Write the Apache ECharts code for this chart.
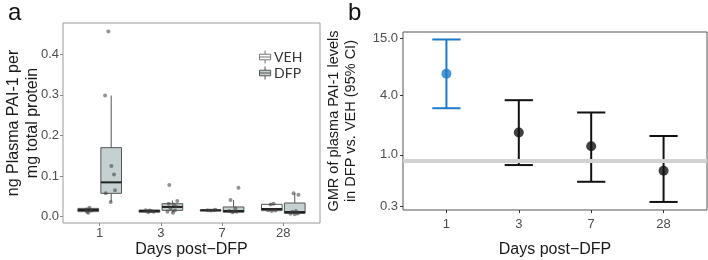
<!DOCTYPE html>
<html>
<head>
<meta charset="utf-8">
<script src="https://cdn.jsdelivr.net/npm/echarts@6/dist/echarts.min.js"></script>
<style>
  html, body { margin: 0; padding: 0; background: #fff; }
  #chart { width: 708px; height: 260px; }
</style>
</head>
<body>
<div id="chart"></div>
<script>
// panel a: plasma PAI-1, box plots by day and group
const days = ['1', '3', '7', '28'];
const groups = ['VEH', 'DFP'];
// [min, q1, median, q3, max] per day
const vehBox = [
  [0.011, 0.0125, 0.0165, 0.0205, 0.022],
  [0.010, 0.011, 0.014, 0.0165, 0.017],
  [0.014, 0.0155, 0.016, 0.0165, 0.017],
  [0.014, 0.015, 0.019, 0.0305, 0.032]
];
const dfpBox = [
  [0.036, 0.0575, 0.0846, 0.170, 0.2985],
  [0.010, 0.0157, 0.024, 0.032, 0.040],
  [0.010, 0.011, 0.014, 0.024, 0.041],
  [0.006, 0.008, 0.0115, 0.0337, 0.0575]
];
// individual animals per day
const vehPoints = [
  [0.022, 0.018, 0.015, 0.012, 0.010],
  [0.016, 0.014, 0.012, 0.011, 0.015],
  [0.016, 0.0155, 0.016, 0.017],
  [0.032, 0.030, 0.016, 0.015, 0.014]
];
const vehJitter = [
  [0.02, -0.03, 0.05, -0.02, 0.0],
  [-0.06, 0.03, 0.07, -0.02, 0.0],
  [-0.05, 0.0, 0.05, 0.08],
  [0.03, -0.02, -0.06, 0.06, 0.0]
];
const dfpPoints = [
  [0.456, 0.2985, 0.125, 0.104, 0.065, 0.058, 0.036],
  [0.078, 0.0386, 0.032, 0.030, 0.025, 0.020, 0.015, 0.012, 0.010],
  [0.0714, 0.041, 0.020, 0.014, 0.012, 0.013, 0.011],
  [0.0575, 0.054, 0.014, 0.012, 0.008, 0.007, 0.006]
];
const dfpJitter = [
  [-0.046, -0.10, 0.003, 0.046, 0.062, -0.09, -0.008],
  [-0.05, 0.08, -0.06, 0.02, 0.06, -0.03, 0.04, -0.08, 0.01],
  [0.08, -0.05, 0.03, -0.07, 0.05, 0.0, -0.02],
  [-0.02, 0.06, 0.02, -0.04, 0.05, -0.07, 0.0]
];
const aTicks = [0, 0.1, 0.2, 0.3, 0.4];

// panel b: GMR with 95% CI
const gmr = [6.6, 1.68, 1.22, 0.69];
const gmrLow = [2.96, 0.787, 0.533, 0.333];
const gmrHigh = [14.7, 3.57, 2.68, 1.55];
const refLevel = 0.88;
const bTicks = [0.3, 1, 4, 15];
const bColors = ['#1b7bc8', '#111111', '#111111', '#111111'];

const dodge = 0.1875, boxW = 0.3375, capW = 0.39;
const lg = v => Math.log10(v);

function boxData(rows, off) {
  return rows.map((r, i) => [i + 1 + off].concat(r));
}
function pointData(rows, jit, off) {
  const out = [];
  rows.forEach((r, i) => r.forEach((v, j) => out.push([i + 1 + off + jit[i][j], v])));
  return out;
}

function boxItem(fill) {
  return function (params, api) {
    const x = api.value(0);
    const c = v => api.coord([x, api.value(v)]);
    const lo = c(1), q1 = c(2), md = c(3), q3 = c(4), hi = c(5);
    const half = api.size([boxW, 0])[0] / 2;
    const st = { stroke: '#555', lineWidth: 1 };
    return {
      type: 'group',
      children: [
        { type: 'line', shape: { x1: lo[0], y1: lo[1], x2: q1[0], y2: q1[1] }, style: st },
        { type: 'line', shape: { x1: q3[0], y1: q3[1], x2: hi[0], y2: hi[1] }, style: st },
        { type: 'rect', shape: { x: q3[0] - half, y: q3[1], width: half * 2, height: Math.max(q1[1] - q3[1], 1) },
          style: { fill: fill, stroke: '#555', lineWidth: 1 } },
        { type: 'line', shape: { x1: md[0] - half, y1: md[1], x2: md[0] + half, y2: md[1] },
          style: { stroke: '#222', lineWidth: 2 } }
      ]
    };
  };
}

function errItem(params, api) {
  const x = api.value(0);
  const lo = api.coord([x, api.value(1)]);
  const hi = api.coord([x, api.value(2)]);
  const half = api.size([capW, 0])[0] / 2;
  const st = { stroke: bColors[params.dataIndex], lineWidth: 2 };
  return {
    type: 'group',
    children: [
      { type: 'line', shape: { x1: lo[0], y1: lo[1], x2: hi[0], y2: hi[1] }, style: st },
      { type: 'line', shape: { x1: lo[0] - half, y1: lo[1], x2: lo[0] + half, y2: lo[1] }, style: st },
      { type: 'line', shape: { x1: hi[0] - half, y1: hi[1], x2: hi[0] + half, y2: hi[1] }, style: st }
    ]
  };
}

const font = 'Liberation Sans, Arial, sans-serif';
const catValues = days.map((d, i) => i + 1);
const dayLabel = v => days[Math.round(v) - 1];
const legendIcon = 'path://M0,4H12V10H0Z M6,0V4 M6,10V14 M0,7H12';

const chart = echarts.init(document.getElementById('chart'), null, { renderer: 'canvas' });
chart.setOption({
  animation: false,
  textStyle: { fontFamily: font },
  title: [
    { text: 'a', left: 3, top: -4, textStyle: { fontSize: 24, fontWeight: 'normal', color: '#111', fontFamily: font } },
    { text: 'b', left: 343, top: -4, textStyle: { fontSize: 24, fontWeight: 'normal', color: '#111', fontFamily: font } }
  ],
  legend: {
    left: 254, top: 45, orient: 'vertical',
    itemWidth: 12, itemHeight: 13, itemGap: 2,
    textStyle: { fontSize: 14, color: '#333', fontFamily: 'Lato', padding: [0, 0, 0, -2] },
    data: [
      { name: 'VEH', icon: legendIcon, itemStyle: { color: '#ffffff', borderColor: '#777', borderWidth: 1 } },
      { name: 'DFP', icon: legendIcon, itemStyle: { color: '#c5d1d0', borderColor: '#555', borderWidth: 1 } }
    ]
  },
  grid: [
    { left: 63, top: 23, width: 257, height: 200, outerBoundsMode: 'none', containLabel: false,
      show: true, borderColor: '#9a9a9a', borderWidth: 1, backgroundColor: 'transparent' },
    { left: 403, top: 32, width: 304, height: 178, outerBoundsMode: 'none', containLabel: false,
      show: true, borderColor: '#555', borderWidth: 1, backgroundColor: 'transparent' }
  ],
  xAxis: [
    {
      gridIndex: 0, type: 'value', min: 0.4, max: 4.6, position: 'bottom',
      splitLine: { show: false }, axisLine: { show: false, onZero: false },
      axisTick: { show: true, customValues: catValues, length: 3, lineStyle: { color: '#888' } },
      axisLabel: { customValues: catValues, formatter: dayLabel, fontSize: 13, color: '#4d4d4d', margin: 4 },
      name: 'Days post\u2212DFP', nameLocation: 'middle', nameGap: 19, nameMoveOverlap: false,
      nameTextStyle: { fontSize: 16, color: '#1a1a1a' }
    },
    {
      gridIndex: 1, type: 'value', min: 0.4, max: 4.6, position: 'bottom',
      splitLine: { show: false }, axisLine: { show: false, onZero: false },
      axisTick: { show: true, customValues: catValues, length: 3, lineStyle: { color: '#333' } },
      axisLabel: { customValues: catValues, formatter: dayLabel, fontSize: 13, color: '#4d4d4d', margin: 8 },
      name: 'Days post\u2212DFP', nameLocation: 'middle', nameGap: 32, nameMoveOverlap: false,
      nameTextStyle: { fontSize: 16, color: '#1a1a1a' }
    }
  ],
  yAxis: [
    {
      gridIndex: 0, type: 'value', min: -0.0155, max: 0.477, position: 'left',
      splitLine: { show: false }, axisLine: { show: false, onZero: false },
      axisTick: { show: true, customValues: aTicks, length: 3, lineStyle: { color: '#888' } },
      axisLabel: { customValues: aTicks, formatter: v => v.toFixed(1), fontSize: 13, color: '#4d4d4d', margin: 4 },
      name: 'ng Plasma PAI-1 per\nmg total protein', nameLocation: 'middle', nameGap: 21, nameMoveOverlap: false,
      nameTextStyle: { fontSize: 16, lineHeight: 19, color: '#1a1a1a' }
    },
    {
      gridIndex: 1, type: 'value', min: lg(0.276), max: lg(17.5), position: 'left',
      splitLine: { show: false }, axisLine: { show: false, onZero: false },
      axisTick: { show: true, customValues: bTicks.map(lg), length: 3, lineStyle: { color: '#333' } },
      axisLabel: {
        customValues: bTicks.map(lg), fontSize: 13, color: '#4d4d4d', margin: 5,
        formatter: v => bTicks.find(t => Math.abs(lg(t) - v) < 1e-6).toFixed(1)
      },
      name: 'GMR of plasma PAI-1 levels\nin DFP vs. VEH (95% CI)', nameLocation: 'middle', nameGap: 44, nameMoveOverlap: false,
      nameTextStyle: { fontSize: 14.5, lineHeight: 16.5, color: '#1a1a1a' }
    }
  ],
  series: [
    {
      name: 'VEH', type: 'custom', xAxisIndex: 0, yAxisIndex: 0,
      renderItem: boxItem('#ffffff'), data: boxData(vehBox, -dodge),
      encode: { x: 0, y: [1, 2, 3, 4, 5] }, z: 2
    },
    {
      name: 'DFP', type: 'custom', xAxisIndex: 0, yAxisIndex: 0,
      renderItem: boxItem('#c5d1d0'), data: boxData(dfpBox, dodge),
      encode: { x: 0, y: [1, 2, 3, 4, 5] }, z: 2
    },
    {
      name: 'VEH pts', type: 'scatter', xAxisIndex: 0, yAxisIndex: 0,
      data: pointData(vehPoints, vehJitter, -dodge), symbolSize: 4,
      itemStyle: { color: 'rgba(60,60,60,0.7)' }, z: 3
    },
    {
      name: 'DFP pts', type: 'scatter', xAxisIndex: 0, yAxisIndex: 0,
      data: pointData(dfpPoints, dfpJitter, dodge), symbolSize: 4,
      itemStyle: { color: 'rgba(60,60,60,0.7)' }, z: 3
    },
    {
      name: 'ref', type: 'line', xAxisIndex: 1, yAxisIndex: 1, data: [], z: 1,
      markLine: {
        silent: true, symbol: 'none', label: { show: false },
        lineStyle: { color: '#d2d2d2', width: 4, type: 'solid' },
        data: [{ yAxis: lg(refLevel) }]
      }
    },
    {
      name: 'CI', type: 'custom', xAxisIndex: 1, yAxisIndex: 1,
      renderItem: errItem,
      data: gmrLow.map((v, i) => [i + 1, lg(v), lg(gmrHigh[i])]),
      encode: { x: 0, y: [1, 2] }, z: 2
    },
    {
      name: 'GMR', type: 'scatter', xAxisIndex: 1, yAxisIndex: 1,
      data: gmr.map((v, i) => [i + 1, lg(v)]), symbolSize: 10,
      itemStyle: { color: p => bColors[p.dataIndex] }, z: 3
    }
  ]
});
</script>
</body>
</html>
